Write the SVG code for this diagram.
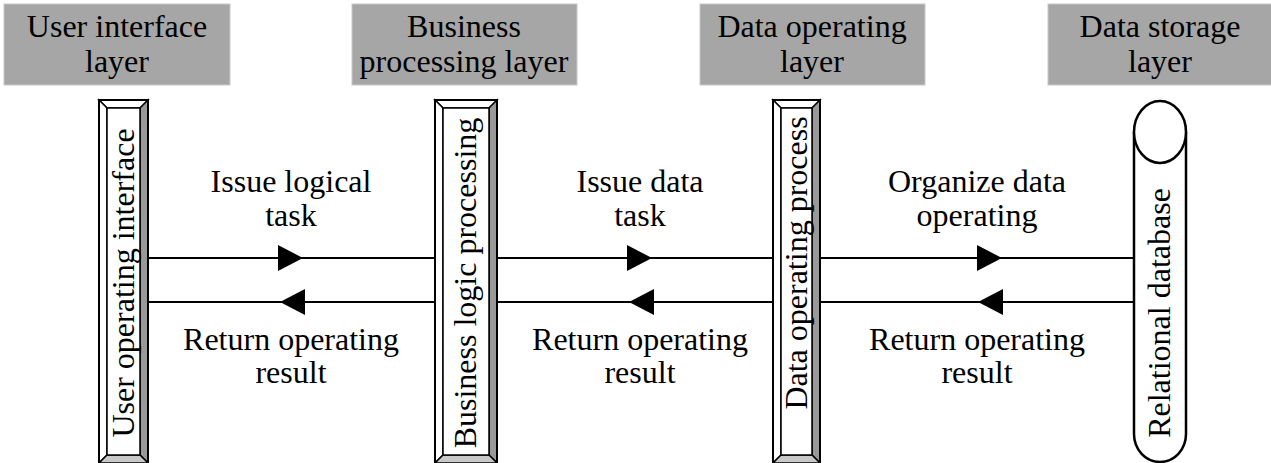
<svg xmlns="http://www.w3.org/2000/svg" width="1271" height="463" viewBox="0 0 1271 463">
<style>
.hdr{fill:#a6a6a6;stroke:#c8c8c8;stroke-width:1}
.t{font-family:"Liberation Serif","Times New Roman",serif;font-size:32px;fill:#000;text-anchor:middle}
.ln{stroke:#000;stroke-width:2;fill:none}
.lt{fill:#fff;stroke:#000;stroke-width:1.5}
.dk{fill:#999;stroke:#000;stroke-width:1.5}
.md{fill:#c8c8c8;stroke:#000;stroke-width:1.5}
.in{fill:#fff;stroke:#000;stroke-width:1.5}
.out{fill:none;stroke:#000;stroke-width:2}
</style>
<rect width="1271" height="463" fill="#fff"/>

<g id="hdr1"><rect class="hdr" x="4" y="4" width="226" height="81"/>
<text class="t" x="117" y="37">User interface</text><text class="t" x="117" y="72">layer</text></g>
<g id="hdr2"><rect class="hdr" x="352" y="4" width="225" height="81"/>
<text class="t" x="464" y="37">Business</text><text class="t" x="464" y="72">processing layer</text></g>
<g id="hdr3"><rect class="hdr" x="700" y="4" width="225" height="81"/>
<text class="t" x="812" y="37">Data operating</text><text class="t" x="812" y="72">layer</text></g>
<g id="hdr4"><rect class="hdr" x="1048" y="4" width="224" height="81"/>
<text class="t" x="1160" y="37">Data storage</text><text class="t" x="1160" y="72">layer</text></g>

<g id="node1">
<path class="lt" d="M99,100 L148,100 L140,108 L107,108 Z"/>
<path class="lt" d="M99,100 L107,108 L107,455 L99,463 Z"/>
<path class="dk" d="M148,100 L148,463 L140,455 L140,108 Z"/>
<path class="md" d="M99,463 L107,455 L140,455 L148,463 Z"/>
<rect class="in" x="107" y="108" width="33" height="347"/>
<rect class="out" x="99" y="100" width="49" height="370"/>
<text class="t" transform="translate(134,283) rotate(-90)">User operating interface</text>
</g>
<g id="node2">
<path class="lt" d="M435,100 L497,100 L489,108 L443,108 Z"/>
<path class="lt" d="M435,100 L443,108 L443,455 L435,463 Z"/>
<path class="dk" d="M497,100 L497,463 L489,455 L489,108 Z"/>
<path class="md" d="M435,463 L443,455 L489,455 L497,463 Z"/>
<rect class="in" x="443" y="108" width="46" height="347"/>
<rect class="out" x="435" y="100" width="62" height="370"/>
<text class="t" transform="translate(476,283) rotate(-90)">Business logic processing</text>
</g>
<g id="node3">
<path class="lt" d="M773,100 L820,100 L812,108 L781,108 Z"/>
<path class="lt" d="M773,100 L781,108 L781,455 L773,463 Z"/>
<path class="dk" d="M820,100 L820,463 L812,455 L812,108 Z"/>
<path class="md" d="M773,463 L781,455 L812,455 L820,463 Z"/>
<rect class="in" x="781" y="108" width="31" height="347"/>
<rect class="out" x="773" y="100" width="47" height="370"/>
<text class="t" transform="translate(807,263) rotate(-90)">Data operating process</text>
</g>
<g id="node4">
<path d="M1134,132 L1134,434 A26,28 0 0 0 1186,434 L1186,132" fill="#fff" stroke="#000" stroke-width="2.5"/>
<ellipse cx="1160" cy="132" rx="26" ry="31" fill="#fff" stroke="#000" stroke-width="2.5"/>
<text class="t" transform="translate(1170,313) rotate(-90)">Relational database</text>
</g>

<g id="connectors">
<line class="ln" x1="148" y1="258" x2="435" y2="258"/>
<path d="M278,245 L303,258 L278,271 Z"/>
<line class="ln" x1="148" y1="302" x2="435" y2="302"/>
<path d="M305,289 L280,302 L305,315 Z"/>
<line class="ln" x1="497" y1="258" x2="773" y2="258"/>
<path d="M627,245 L652,258 L627,271 Z"/>
<line class="ln" x1="497" y1="302" x2="773" y2="302"/>
<path d="M654,289 L629,302 L654,315 Z"/>
<line class="ln" x1="820" y1="258" x2="1134" y2="258"/>
<path d="M977,245 L1002,258 L977,271 Z"/>
<line class="ln" x1="820" y1="302" x2="1134" y2="302"/>
<path d="M1003,289 L978,302 L1003,315 Z"/>
</g>

<g id="labels">
<text class="t" x="291" y="192">Issue logical</text><text class="t" x="291" y="226">task</text>
<text class="t" x="291" y="350">Return operating</text><text class="t" x="291" y="383">result</text>
<text class="t" x="640" y="192">Issue data</text><text class="t" x="640" y="226">task</text>
<text class="t" x="640" y="350">Return operating</text><text class="t" x="640" y="383">result</text>
<text class="t" x="977" y="192">Organize data</text><text class="t" x="977" y="226">operating</text>
<text class="t" x="977" y="350">Return operating</text><text class="t" x="977" y="383">result</text>
</g>
</svg>
